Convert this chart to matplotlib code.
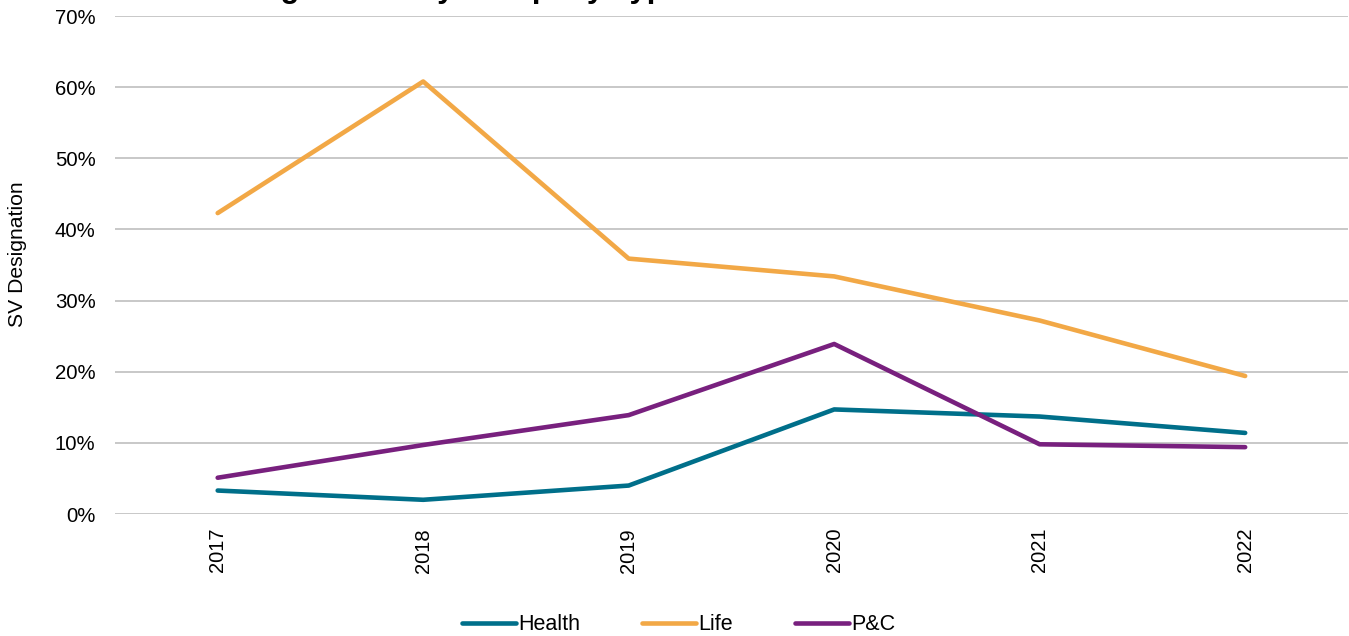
import matplotlib
matplotlib.use("Agg")
import matplotlib.pyplot as plt
from matplotlib.ticker import PercentFormatter

plt.rcParams['font.family'] = ['Liberation Sans', 'DejaVu Sans']

years = ["2017", "2018", "2019", "2020", "2021", "2022"]
health = [3.3, 2.0, 4.0, 14.7, 13.7, 11.4]
life = [42.3, 60.8, 35.9, 33.4, 27.2, 19.4]
pc = [5.1, 9.7, 13.9, 23.9, 9.8, 9.4]

fig = plt.figure(figsize=(13.49, 6.36), dpi=100)
ax = fig.add_axes([0.0852, 0.1918, 0.914, 0.783])

x = range(len(years))
ax.plot(x, health, color="#006F8A", lw=3.3, solid_capstyle="round", label="Health")
ax.plot(x, life, color="#F2A846", lw=3.3, solid_capstyle="round", label="Life")
ax.plot(x, pc, color="#78207E", lw=3.3, solid_capstyle="round", label="P&C")

ax.set_xlim(-0.5, 5.5)
ax.set_ylim(0, 70)
ax.set_yticks(range(0, 71, 10))
ax.yaxis.set_major_formatter(PercentFormatter(decimals=0))
ax.set_xticks(list(x))
ax.set_xticklabels(years, rotation=90)
ax.tick_params(axis="y", length=0, pad=14, labelsize=14.7)
ax.tick_params(axis="x", length=0, pad=10, labelsize=14.5)
ax.grid(axis="y", color="#BFBFBF", lw=1.2)
ax.set_axisbelow(True)
for s in ax.spines.values():
    s.set_visible(False)

fig.text(18 / 1349, 1 - 254 / 636, "SV Designation", rotation=90,
         ha="center", va="center", fontsize=15.2)

# title is clipped by the top edge in the original
fig.text(165 / 1349, 1 + 3 / 636, "SV Designations by Company Type",
         ha="left", va="baseline", fontsize=22.3, fontweight="bold")

fig.legend(loc="center", bbox_to_anchor=(0.503, 1 - 625 / 636), ncol=3,
           frameon=False, fontsize=15.5, handlelength=2.5, handletextpad=0.1,
           columnspacing=2.9)

fig.savefig("out.png", dpi=100)
